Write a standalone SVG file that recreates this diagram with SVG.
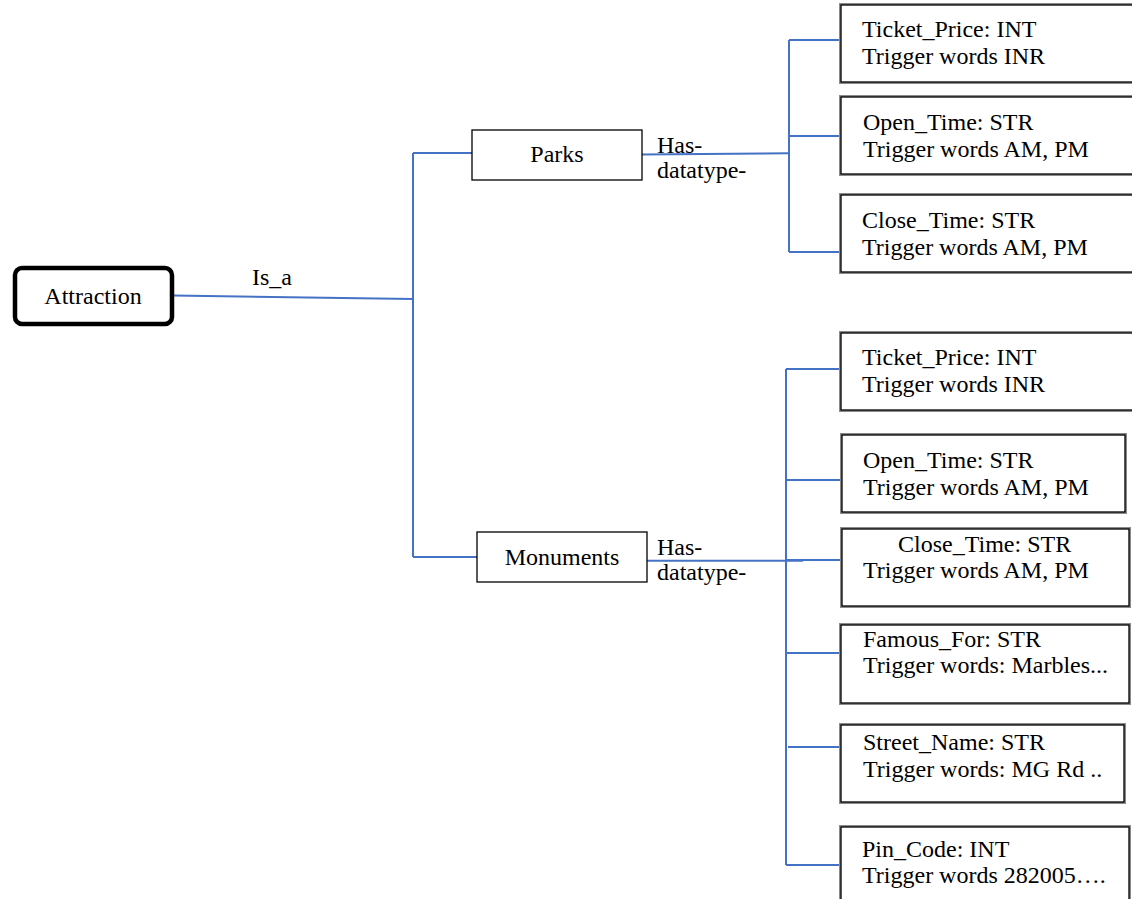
<svg xmlns="http://www.w3.org/2000/svg" width="1132" height="899" viewBox="0 0 1132 899">
<style>
text{font-family:'Liberation Serif','Times New Roman',serif;font-size:24px;fill:#000}
.c{text-anchor:middle}
.conn{stroke:#4472C4;stroke-width:2;fill:none}
.sh{fill:none;stroke:#8a8a8a;stroke-width:4}
.bx{fill:#fff;stroke:#000;stroke-width:1.3}
</style>
<rect width="1132" height="899" fill="#fff"/>
<g id="connectors">
<path class="conn" d="M173 295.5 L413 299"/>
<path class="conn" d="M413 153 V557"/>
<path class="conn" d="M413 153 H472"/>
<path class="conn" d="M413 557 H477"/>
<path class="conn" d="M642 154.5 L789 153.3"/>
<path class="conn" d="M789 40 V252"/>
<path class="conn" d="M789 40 H841"/>
<path class="conn" d="M789 136 H841"/>
<path class="conn" d="M789 252 H841 V262"/>
<path class="conn" d="M647 560.7 L803 560.7"/>
<path class="conn" d="M786 369 V865"/>
<path class="conn" d="M786 369 H841"/>
<path class="conn" d="M786 480 H842"/>
<path class="conn" d="M786 560 H842"/>
<path class="conn" d="M786 653 H841"/>
<path class="conn" d="M788 747 H841"/>
<path class="conn" d="M786 865 H841"/>
</g>
<g id="labels">
<text x="252" y="285">Is_a</text>
<text x="657" y="153">Has-</text>
<text x="657" y="178">datatype-</text>
<text x="657" y="555">Has-</text>
<text x="657" y="580">datatype-</text>
</g>
<g id="attraction">
<rect x="15" y="268" width="157" height="56" rx="7" fill="#fff" stroke="#000" stroke-width="4.5"/>
<text class="c" x="93" y="304">Attraction</text>
</g>
<g id="parks">
<rect class="bx" x="472" y="130" width="170" height="50"/>
<text class="c" x="557" y="162">Parks</text>
</g>
<g id="monuments">
<rect class="bx" x="477" y="532" width="170" height="50"/>
<text class="c" x="562" y="565">Monuments</text>
</g>
<g id="p_ticket">
<rect class="sh" x="841" y="5" width="300" height="77"/>
<rect class="bx" x="841" y="5" width="300" height="77"/>
<text x="862" y="37">Ticket_Price: INT</text>
<text x="862" y="64">Trigger words INR</text>
</g>
<g id="p_open">
<rect class="sh" x="841" y="97" width="300" height="77"/>
<rect class="bx" x="841" y="97" width="300" height="77"/>
<text x="863" y="130">Open_Time: STR</text>
<text x="863" y="157">Trigger words AM, PM</text>
</g>
<g id="p_close">
<rect class="sh" x="841" y="195" width="300" height="77"/>
<rect class="bx" x="841" y="195" width="300" height="77"/>
<text x="862" y="228">Close_Time: STR</text>
<text x="862" y="255">Trigger words AM, PM</text>
</g>
<g id="m_ticket">
<rect class="sh" x="841" y="333" width="300" height="77"/>
<rect class="bx" x="841" y="333" width="300" height="77"/>
<text x="862" y="365">Ticket_Price: INT</text>
<text x="862" y="392">Trigger words INR</text>
</g>
<g id="m_open">
<rect class="sh" x="842" y="435" width="283" height="77"/>
<rect class="bx" x="842" y="435" width="283" height="77"/>
<text x="863" y="468">Open_Time: STR</text>
<text x="863" y="495">Trigger words AM, PM</text>
</g>
<g id="m_close">
<rect class="sh" x="842" y="529" width="287" height="77"/>
<rect class="bx" x="842" y="529" width="287" height="77"/>
<text x="898" y="552">Close_Time: STR</text>
<text x="863" y="578">Trigger words AM, PM</text>
</g>
<g id="m_famous">
<rect class="sh" x="841" y="625" width="288" height="78"/>
<rect class="bx" x="841" y="625" width="288" height="78"/>
<text x="863" y="647">Famous_For: STR</text>
<text x="863" y="673">Trigger words: Marbles...</text>
</g>
<g id="m_street">
<rect class="sh" x="841" y="725" width="283" height="77"/>
<rect class="bx" x="841" y="725" width="283" height="77"/>
<text x="863" y="750">Street_Name: STR</text>
<text x="863" y="777">Trigger words: MG Rd ..</text>
</g>
<g id="m_pin">
<rect class="sh" x="841" y="827" width="288" height="80"/>
<rect class="bx" x="841" y="827" width="288" height="80"/>
<text x="862" y="857">Pin_Code: INT</text>
<text x="862" y="883">Trigger words 282005….</text>
</g>
</svg>
